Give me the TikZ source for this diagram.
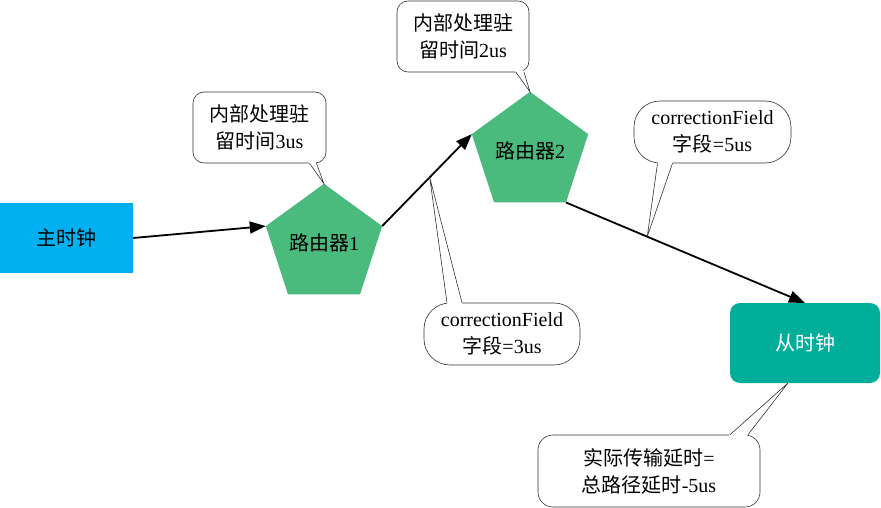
\documentclass[tikz,border=0pt]{standalone}
\usepackage{fontspec}
\setmainfont{Liberation Serif}
\newfontfamily\cjk{Noto Sans CJK SC}
\usepackage{tikz}
\usetikzlibrary{shapes.geometric, arrows.meta, calc}
\definecolor{masterblue}{HTML}{00B0F0}
\definecolor{routergreen}{HTML}{4ABA7D}
\definecolor{slaveteal}{HTML}{00AE9A}

\begin{document}
\begin{tikzpicture}[x=1pt, y=-1pt,
		>={Triangle[length=16pt,width=12pt]},   %Pfeilspitzen
		font=\fontsize{20}{27}\selectfont,
		clock/.style={minimum width=#1, inner sep=0pt, outer sep=0pt},
		router/.style={regular polygon, regular polygon sides=5, minimum size=120pt, inner sep=0pt, outer sep=0pt, fill=routergreen, text depth=6pt},
		note/.style={draw=black!80, line width=0.6pt, fill=white, align=center, inner sep=0pt, rounded corners=#1},
		link/.style={->, line width=1.8pt}]
		\useasboundingbox (0,0) rectangle (881,508);
		% Uhren
		\node[clock=133pt, minimum height=70pt, fill=masterblue] (master) at (66.5,238) {{\cjk 主时钟}};
		\node[clock=150pt, minimum height=80pt, fill=slaveteal, rounded corners=10pt, text=white] (slave) at (805,343) {{\cjk 从时钟}};
		% Router
		\node[router] (router1) at (324,245) {{\cjk 路由器}1};
		\node[router] (router2) at (530,153) {{\cjk 路由器}2};
		% Verbindungen
		\draw[link] (master.east) -- (router1.corner 2);
		\draw[link] (router1.corner 5) -- coordinate[pos=0.53] (cf3) (router2.corner 2);
		\draw[link] (router2.corner 4) -- coordinate[pos=0.34] (cf5) (slave.north);
		\coordinate (tip5) at ($(slave.south)+(-17,0)$);
		% Sprechblasen
		\node[note=11pt, minimum width=133pt, minimum height=71pt] (note1) at (259.5,127.5) {{\cjk 内部处理驻}\\{\cjk 留时间}3us};
		\node[note=11pt, minimum width=132pt, minimum height=71pt] (note2) at (463,36.5) {{\cjk 内部处理驻}\\{\cjk 留时间}2us};
		\node[note=26pt, minimum width=156pt, minimum height=62pt] (note3) at (502,334) {correctionField\\{\cjk 字段}=3us};
		\node[note=26pt, minimum width=157pt, minimum height=62pt] (note4) at (712.5,132) {correctionField\\{\cjk 字段}=5us};
		\node[note=15pt, minimum width=222pt, minimum height=72pt] (note5) at (649,471) {{\cjk 实际传输延时}=\\{\cjk 总路径延时}-5us};
		% Zeiger der Sprechblasen
		\foreach \n/\e/\a/\b/\t in {note1/south/50/57/router1.corner 1, note2/south/53/61/router2.corner 1,
			note3/north/-55/-40/cf3, note4/south/-55/-40/cf5, note5/north/81/99/tip5}
		{
			\coordinate (p1) at ($(\n.\e)+(\a,0)$);
			\coordinate (p2) at ($(\n.\e)+(\b,0)$);
			\fill[white] ($(p1)!-2pt!(\t)$) -- (\t) -- ($(p2)!-2pt!(\t)$) -- cycle;
			\draw[black!80, line width=0.6pt] (p1) -- (\t) -- (p2);
		}
\end{tikzpicture}
\end{document}
